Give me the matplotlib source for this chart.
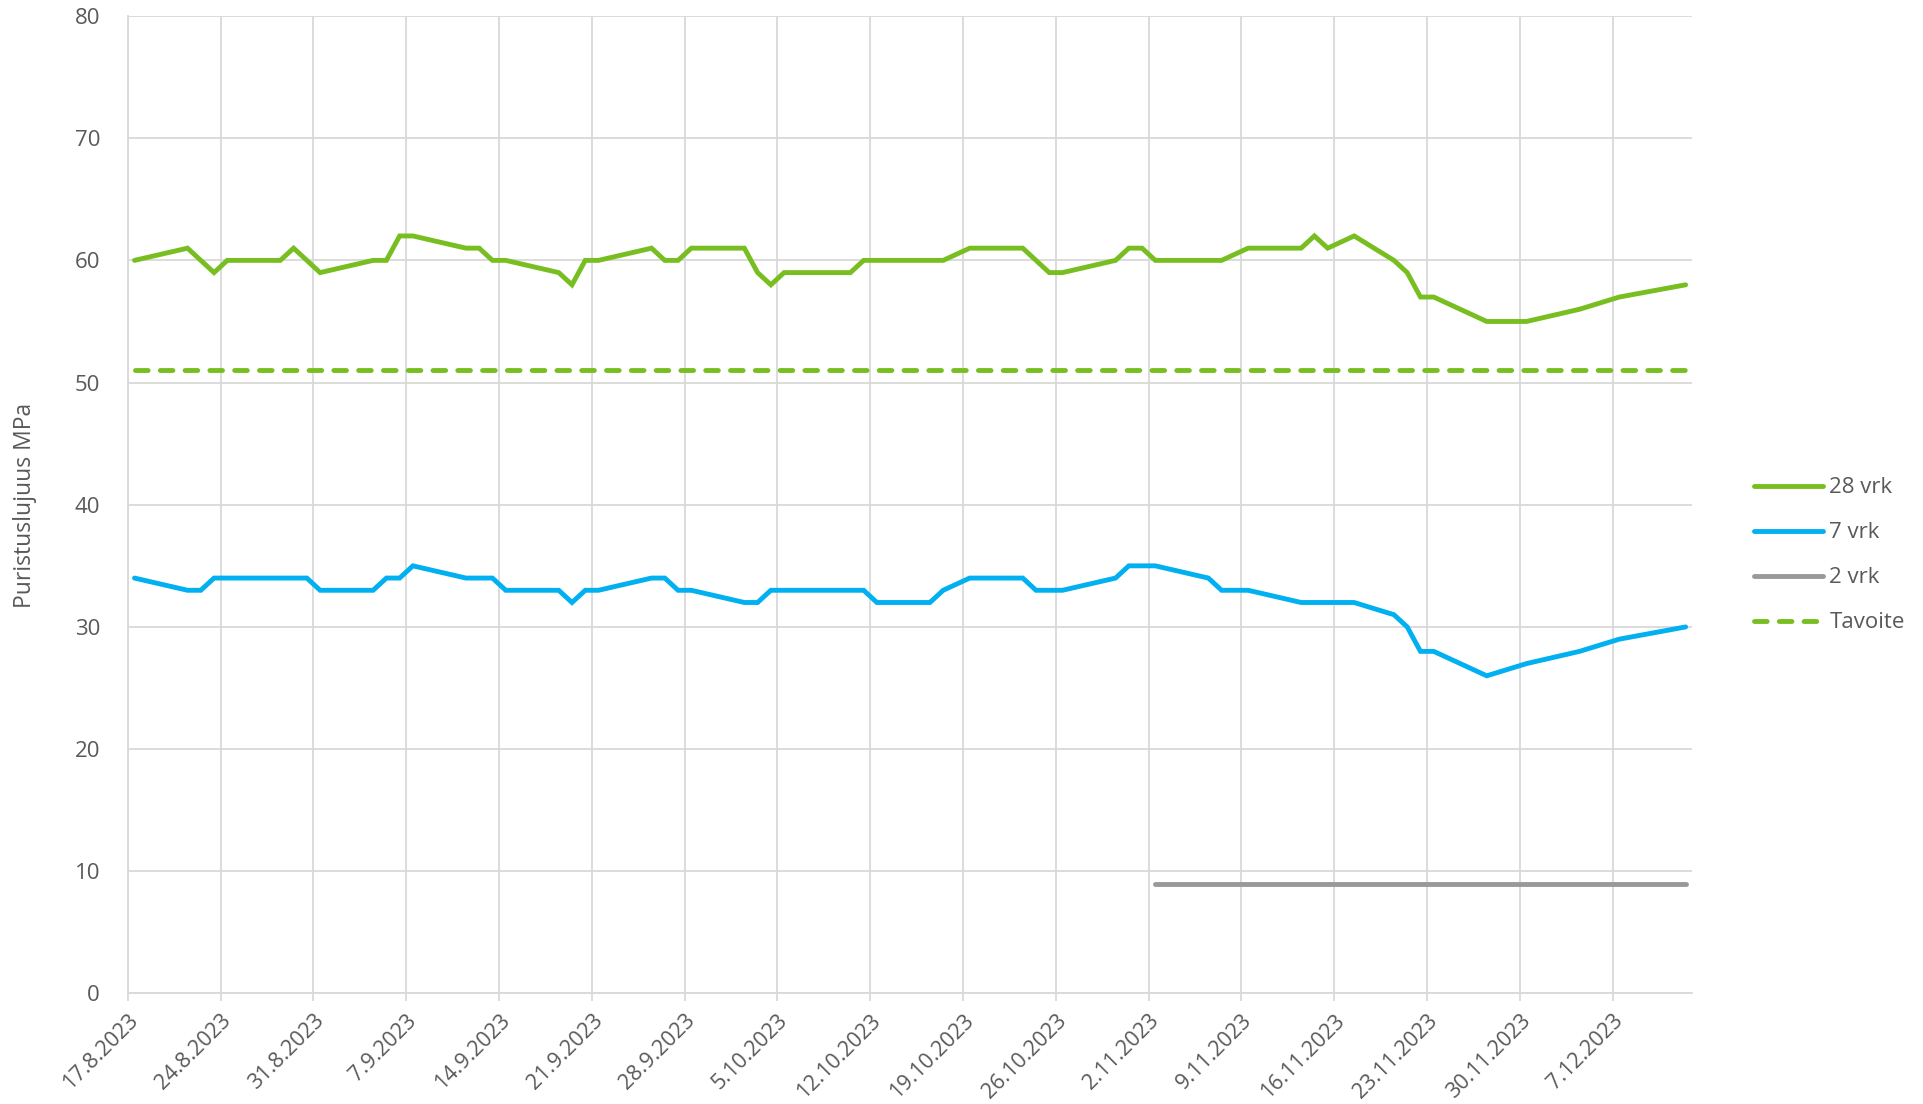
import numpy as np
import pandas as pd
import matplotlib
matplotlib.use("Agg")
import matplotlib.pyplot as plt


START = "2023-08-17"

# days after 17.8.2023
days_28 = [0, 4, 6, 7, 11, 12, 14, 18, 19, 20, 21, 25, 26, 27, 28, 32, 33, 34, 35,
           39, 40, 41, 42, 46, 47, 48, 49, 54, 55, 61, 63, 67, 69, 70, 74, 75, 76,
           77, 82, 84, 88, 89, 90, 92, 95, 96, 97, 98, 102, 105, 109, 112, 117]
vals_28 = [60, 61, 59, 60, 60, 61, 59, 60, 60, 62, 62, 61, 61, 60, 60, 59, 58, 60, 60,
           61, 60, 60, 61, 61, 59, 58, 59, 59, 60, 60, 61, 61, 59, 59, 60, 61, 61,
           60, 60, 61, 61, 62, 61, 62, 60, 59, 57, 57, 55, 55, 56, 57, 58]

days_7 = [0, 4, 5, 6, 13, 14, 18, 19, 20, 21, 25, 27, 28, 32, 33, 34, 35, 39, 40, 41,
          42, 46, 47, 48, 55, 56, 60, 61, 63, 67, 68, 70, 74, 75, 77, 81, 82, 84, 88,
          92, 95, 96, 97, 98, 102, 105, 109, 112, 117]
vals_7 = [34, 33, 33, 34, 34, 33, 33, 34, 34, 35, 34, 34, 33, 33, 32, 33, 33, 34, 34, 33,
          33, 32, 32, 33, 33, 32, 32, 33, 34, 34, 33, 33, 34, 35, 35, 34, 33, 33, 32,
          32, 31, 30, 28, 28, 26, 27, 28, 29, 30]

days_2 = [77, 117]
vals_2 = [9, 9]

days_target = [0, 117]
vals_target = [51, 51]

GREEN = "#78BE21"
BLUE = "#00B0F0"
GRAY = "#999999"
TEXT = "#595959"
GRID = "#D9D9D9"

plt.rcParams["font.family"] = ["Open Sans", "DejaVu Sans"]


def to_dates(days):
    # Excel date axis puts the point in the middle of the day
    return pd.Timestamp(START) + pd.to_timedelta(np.array(days) + 0.5, unit="D")


fig = plt.figure(figsize=(19.23, 11.04), dpi=100)
ax = fig.add_axes([0.0665, 0.1001, 0.8135, 0.8854])

lw = 3.5
ax.plot(to_dates(days_28), vals_28, color=GREEN, lw=lw, label="28 vrk",
        solid_capstyle="round", solid_joinstyle="miter")
ax.plot(to_dates(days_7), vals_7, color=BLUE, lw=lw, label="7 vrk",
        solid_capstyle="round", solid_joinstyle="miter")
ax.plot(to_dates(days_2), vals_2, color=GRAY, lw=lw, label="2 vrk",
        solid_capstyle="round")
ax.plot(to_dates(days_target), vals_target, color=GREEN, lw=lw, label="Tavoite",
        dashes=(2.6, 2.5), dash_capstyle="round")

start = pd.Timestamp(START)
ax.set_xlim(start, start + pd.Timedelta(days=118))
ax.set_ylim(0, 80)
ax.set_yticks(np.arange(0, 81, 10))

ticks = pd.date_range(start, start + pd.Timedelta(days=112), freq="7D")
ax.set_xticks(ticks)
ax.set_xticklabels([f"{d.day}.{d.month}.{d.year}" for d in ticks],
                   rotation=45, ha="right", va="top", rotation_mode="anchor")

ax.grid(True, color=GRID, lw=1.3)
ax.set_axisbelow(True)
for side in ["top", "right"]:
    ax.spines[side].set_visible(False)
ax.spines["left"].set_color(GRID)
ax.spines["bottom"].set_color(GRID)
ax.spines["left"].set_linewidth(1.3)
ax.spines["bottom"].set_linewidth(1.3)

ax.tick_params(axis="y", length=0, pad=20, labelsize=16, labelcolor=TEXT)
ax.tick_params(axis="x", length=6, width=1.3, color=GRID, pad=6,
               labelsize=15.5, labelcolor=TEXT)

fig.text(0.013, 0.542, "Puristuslujuus MPa", rotation=90, ha="center", va="center",
         fontsize=16.5, color=TEXT)

ax.legend(loc="center left", bbox_to_anchor=(0.912, 0.497),
          bbox_transform=fig.transFigure, frameon=False, fontsize=16,
          labelcolor=TEXT, handlelength=3.1, handletextpad=0.3,
          labelspacing=1.08, borderpad=0, borderaxespad=0)

fig.savefig("out.png", dpi=100)
